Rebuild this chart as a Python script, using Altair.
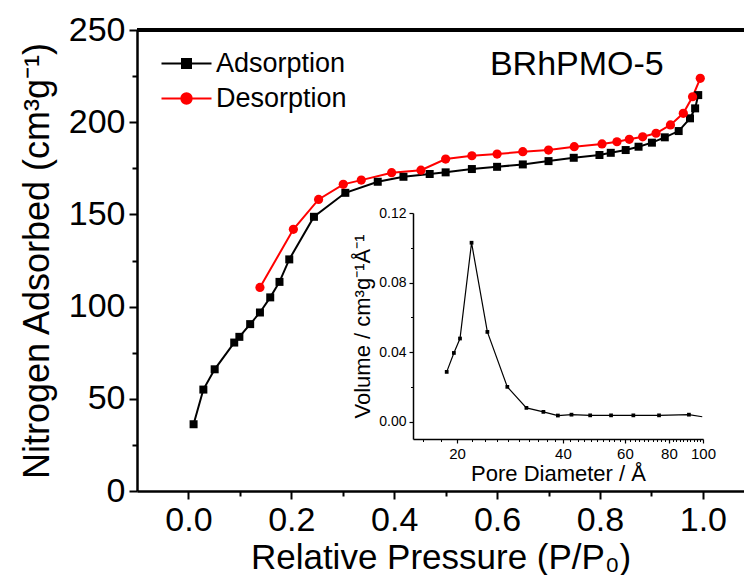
import altair as alt
import pandas as pd

# ---------------- data ----------------
series_names = ["Adsorption", "Desorption"]
series_colors = ["#000000", "#ff0000"]

ads_p = [0.010, 0.029, 0.051, 0.089, 0.099, 0.120, 0.139, 0.159, 0.177, 0.196,
         0.244, 0.305, 0.368, 0.418, 0.469, 0.500, 0.551, 0.600, 0.650, 0.700,
         0.749, 0.799, 0.821, 0.850, 0.875, 0.901, 0.926, 0.953, 0.975, 0.985, 0.991]
ads_v = [36.2, 55.0, 66.0, 80.5, 83.6, 90.5, 96.8, 105.0, 113.4, 125.6,
         148.7, 161.7, 167.7, 170.4, 171.9, 172.8, 174.6, 175.8, 177.1, 178.9,
         180.7, 182.2, 183.4, 184.9, 186.7, 188.9, 191.8, 195.2, 202.1, 207.5, 214.7]

des_p = [0.995, 0.980, 0.962, 0.937, 0.909, 0.883, 0.857, 0.833, 0.804, 0.750,
         0.700, 0.650, 0.600, 0.551, 0.500, 0.452, 0.395, 0.336, 0.301, 0.253,
         0.204, 0.139]
des_v = [223.8, 213.8, 204.8, 198.5, 194.0, 192.1, 190.7, 189.4, 188.2, 186.7,
         184.9, 184.0, 182.7, 181.8, 180.0, 174.0, 172.6, 168.6, 166.3, 158.1,
         141.9, 110.4]

pore_d = [18.7, 19.6, 20.4, 22.0, 24.4, 27.8, 31.5, 35.2, 38.7, 42.3, 47.8, 54.8, 63.4, 75.0, 91.2]
pore_v = [0.0286, 0.0395, 0.0478, 0.1029, 0.0516, 0.0200, 0.0079, 0.0056, 0.0035,
          0.0040, 0.0036, 0.0036, 0.0036, 0.0036, 0.0040]
pore_tail_d = [99.5]
pore_tail_v = [0.0028]

sample_label = ["BRhPMO-5"]
label_p = [0.755]
label_v = [231]

main_x_ticks = [0.0, 0.2, 0.4, 0.6, 0.8, 1.0]
main_x_minor = [0.1, 0.3, 0.5, 0.7, 0.9]
main_y_ticks = [0, 50, 100, 150, 200, 250]
main_y_minor = [25, 75, 125, 175, 225]
inset_x_ticks = [20, 40, 60, 80, 100]
inset_x_minor = [16, 18, 22, 24, 26, 28, 30, 32, 34, 36, 38, 42, 44, 46, 48, 50, 52, 54,
                 56, 58, 62, 64, 66, 68, 70, 72, 74, 76, 78, 82, 84, 86, 88, 90, 92, 94, 96, 98]
inset_y_ticks = [0.0, 0.04, 0.08, 0.12]
inset_y_minor = [0.02, 0.06, 0.10]

# ---------------- frames ----------------
ads_df = pd.DataFrame({"p": ads_p, "v": ads_v})
des_df = pd.DataFrame({"p": des_p, "v": des_v})
pore_df = pd.DataFrame({"d": pore_d, "v": pore_v})
pore_line_df = pd.DataFrame({"d": pore_d + pore_tail_d, "v": pore_v + pore_tail_v})
label_df = pd.DataFrame({"p": label_p, "v": label_v, "t": sample_label})
legend_df = pd.DataFrame({"series": series_names})

W, H = 607, 461
FONT = "Liberation Sans"
RED = series_colors[1]

XS = alt.Scale(domain=[-0.1, 1.08], nice=False, zero=False)
YS = alt.Scale(domain=[0, 250], nice=False, zero=False)
IXS = alt.Scale(type="log", domain=[15, 100], range=[276, 566], nice=False)
IYS = alt.Scale(domain=[-0.01, 0.12], range=[409, 183], nice=False, zero=False)

common = dict(grid=False, domainColor="black", tickColor="black", labelColor="black",
              titleColor="black", labelFont=FONT, titleFont=FONT, titleFontWeight="normal",
              labelOverlap=False, labelFlush=False)

x_axis = alt.Axis(orient="bottom", values=main_x_ticks, format=".1f", tickSize=8, tickWidth=2,
                  domainWidth=2.5, labelFontSize=34, labelPadding=4,
                  title="Relative Pressure (P/P₀)", titleFontSize=35, titlePadding=3, **common)
y_axis = alt.Axis(orient="left", values=main_y_ticks, format="d", tickSize=8, tickWidth=2,
                  domainWidth=2.5, labelFontSize=34, labelPadding=4,
                  title="Nitrogen Adsorbed (cm³g⁻¹)", titleFontSize=36, titlePadding=12, **common)
x_minor_axis = alt.Axis(orient="bottom", values=main_x_minor, labels=False, tickSize=5,
                        tickWidth=2, domain=False, title=None, grid=False, tickColor="black")
y_minor_axis = alt.Axis(orient="left", values=main_y_minor, labels=False, tickSize=5,
                        tickWidth=2, domain=False, title=None, grid=False, tickColor="black")

ix_axis = alt.Axis(orient="bottom", offset=-(H - 409), values=inset_x_ticks, format="d",
                   tickSize=4, tickWidth=1.2, domainWidth=1.5, labelFontSize=15, labelPadding=3,
                   title="Pore Diameter / Å", titleFontSize=22, titlePadding=2, **common)
iy_axis = alt.Axis(orient="left", offset=-276, values=inset_y_ticks, format=".2f",
                   tickSize=4, tickWidth=1.2, domainWidth=1.5, labelFontSize=14, labelPadding=3,
                   title="Volume / cm³g⁻¹Å⁻¹", titleFontSize=22, titlePadding=4, **common)
ix_minor_axis = alt.Axis(orient="bottom", offset=-(H - 409), values=inset_x_minor, labels=False,
                         tickSize=2.5, tickWidth=1, domain=False, title=None, grid=False,
                         tickColor="black")
iy_minor_axis = alt.Axis(orient="left", offset=-276, values=inset_y_minor, labels=False,
                         tickSize=2.5, tickWidth=1, domain=False, title=None, grid=False,
                         tickColor="black")

# ---------------- layers ----------------
top_rule = alt.Chart(ads_df).mark_rule(color="black", strokeWidth=2.5).encode(
    x=alt.value(0), x2=alt.value(W), y=alt.value(0))

ads_line = alt.Chart(ads_df).mark_line(color="black", strokeWidth=2).encode(
    x=alt.X("p:Q", scale=XS, axis=x_axis), y=alt.Y("v:Q", scale=YS, axis=y_axis))
des_line = alt.Chart(des_df).mark_line(color=RED, strokeWidth=2).encode(
    x=alt.X("p:Q", scale=XS, axis=None), y=alt.Y("v:Q", scale=YS, axis=None))
ads_pts = alt.Chart(ads_df).mark_point(shape="square", filled=True, size=64, color="black",
                                       opacity=1).encode(
    x=alt.X("p:Q", scale=XS, axis=None), y=alt.Y("v:Q", scale=YS, axis=None))
des_pts = alt.Chart(des_df).mark_point(shape="circle", filled=True, size=85, color=RED,
                                       opacity=1).encode(
    x=alt.X("p:Q", scale=XS, axis=None), y=alt.Y("v:Q", scale=YS, axis=None))
main_minor = alt.Chart(ads_df).mark_point(opacity=0).encode(
    x=alt.X("p:Q", scale=XS, axis=x_minor_axis), y=alt.Y("v:Q", scale=YS, axis=y_minor_axis)
).transform_filter("false")

label = alt.Chart(label_df).mark_text(font=FONT, fontSize=34, color="black", align="center",
                                      baseline="middle").encode(
    x=alt.X("p:Q", scale=XS, axis=None), y=alt.Y("v:Q", scale=YS, axis=None), text="t:N")

inset_line = alt.Chart(pore_line_df).mark_line(color="black", strokeWidth=1.2).encode(
    x=alt.X("d:Q", scale=IXS, axis=ix_axis), y=alt.Y("v:Q", scale=IYS, axis=iy_axis))
inset_pts = alt.Chart(pore_df).mark_point(shape="square", filled=True, size=14, color="black",
                                          opacity=1).encode(
    x=alt.X("d:Q", scale=IXS, axis=None), y=alt.Y("v:Q", scale=IYS, axis=None))
inset_minor = alt.Chart(pore_df).mark_point(opacity=0).encode(
    x=alt.X("d:Q", scale=IXS, axis=ix_minor_axis), y=alt.Y("v:Q", scale=IYS, axis=iy_minor_axis)
).transform_filter("false")

sq_path = "M-2.5,0H2.5M-0.45,-0.45H0.45V0.45H-0.45Z"
ci_path = "M-2.5,0H2.5M-0.52,0A0.52,0.52,0,1,1,0.52,0A0.52,0.52,0,1,1,-0.52,0Z"
leg = dict(title=None, orient="none", legendX=36, legendY=20, labelFont=FONT, labelFontSize=27,
           labelColor="black", labelOffset=16, rowPadding=7, symbolSize=400,
           symbolStrokeWidth=2, padding=0)
legend_layer = alt.Chart(legend_df).mark_point(filled=True, opacity=1, size=400,
                                               strokeWidth=2).encode(
    fill=alt.Fill("series:N", scale=alt.Scale(domain=series_names, range=series_colors),
                  legend=alt.Legend(**leg)),
    stroke=alt.Stroke("series:N", scale=alt.Scale(domain=series_names, range=series_colors),
                      legend=alt.Legend(**leg)),
    shape=alt.Shape("series:N", scale=alt.Scale(domain=series_names, range=[sq_path, ci_path]),
                    legend=alt.Legend(**leg)),
).transform_filter("false")

chart = alt.layer(
    top_rule, ads_line, des_line, ads_pts, des_pts, main_minor, label,
    inset_line, inset_pts, inset_minor, legend_layer
).resolve_scale(x="independent", y="independent").resolve_axis(
    x="independent", y="independent"
).properties(
    width=W, height=H,
    padding={"left": 129, "top": 22, "right": 0, "bottom": 84},
    autosize=alt.AutoSizeParams(type="none"),
    background="white",
).configure_view(strokeWidth=0)

chart.save("out.html", embed_options={"renderer": "svg", "actions": False})
